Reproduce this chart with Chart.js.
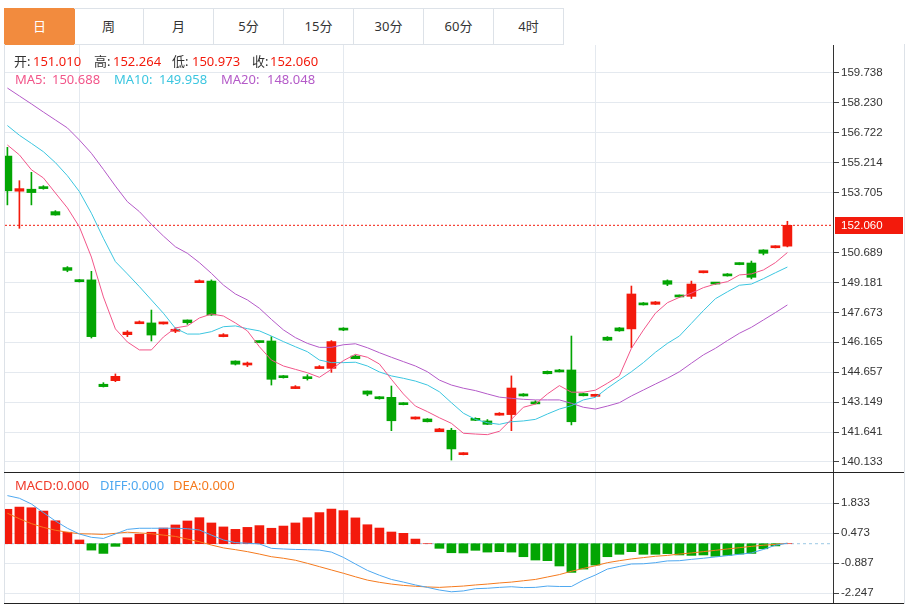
<!DOCTYPE html>
<html>
<head>
<meta charset="utf-8">
<script src="https://cdn.jsdelivr.net/npm/chart.js@4.4.0/dist/chart.umd.min.js"></script>
<style>
  html, body { margin: 0; padding: 0; background: #fff; }
  body { width: 909px; height: 606px; position: relative; overflow: hidden;
         font-family: "Noto Sans", "Noto Sans CJK SC", sans-serif; font-size: 13px; }
  .abs { position: absolute; }
  .tab { position: absolute; top: 8px; height: 35px; width: 69px; line-height: 35px; text-align: center;
         border: 1px solid #dde2e8; border-left: none; color: #333; }
  .tab.on { background: #f28b3e; color: #fff; border-color: #f28b3e; }
  .txt { position: absolute; white-space: nowrap; line-height: 16px; }
  .frame { position: absolute; left: 4px; top: 44px; width: 899px; height: 559px; border: 1px solid #dde2e8; border-top: none; }
  .sep { position: absolute; left: 4px; width: 900px; height: 1px; background: #222; }
</style>
</head>
<body>
<div id="tabs"></div>
<div class="frame"></div>

<div class="abs" style="left:5px; top:45px; width:898px; height:427px;">
  <canvas id="kChart" width="898" height="427"></canvas>
</div>
<div class="sep" style="top:472px;"></div>
<div class="abs" style="left:5px; top:473px; width:898px; height:130px;">
  <canvas id="macdChart" width="898" height="130"></canvas>
</div>
<div class="sep" style="top:603px;"></div>

<div id="legend"></div>

<script>
// Period tabs
const tabNames = ['日', '周', '月', '5分', '15分', '30分', '60分', '4时'];

// Daily candles (open / high / low / close)
const opens  = [155.55,153.78,153.88,153.99,152.75,149.93,149.31,149.31,144.05,144.23,146.55,147.10,147.14,147.09,146.72,147.29,149.17,149.25,146.45,145.22,
                145.02,146.23,146.23,144.47,143.83,144.43,144.84,144.85,146.87,145.47,143.71,143.41,143.39,143.11,142.30,142.30,141.66,141.73,140.50,142.33,
                142.20,142.49,142.52,143.56,143.16,144.70,144.77,144.77,143.58,143.44,146.42,146.89,146.84,148.15,148.08,149.27,148.53,148.48,149.67,149.17,
                149.61,150.16,150.16,150.82,150.93,151.010];
const highs  = [155.99,154.31,154.73,154.06,152.80,149.98,149.33,149.74,144.13,144.57,146.75,147.24,147.79,147.18,146.89,147.29,149.31,149.31,146.60,145.23,
                145.17,146.24,146.45,144.49,143.98,144.53,144.99,146.25,146.90,145.52,143.71,143.43,143.96,143.12,142.40,142.32,141.83,141.83,140.60,142.36,
                142.27,142.62,144.47,143.58,143.22,144.72,144.80,146.48,143.60,143.55,146.45,146.91,149.00,148.17,148.22,149.31,148.55,149.25,149.75,149.18,
                149.63,150.17,150.26,150.83,151.03,152.264];
const lows   = [153.09,151.91,153.09,153.88,152.57,149.72,149.20,146.38,143.91,144.18,146.45,147.10,146.23,147.08,146.65,147.07,149.17,147.52,146.44,145.02,
                144.94,146.14,144.01,144.36,143.83,144.26,144.84,144.65,146.75,145.34,143.47,143.30,141.71,143.01,142.29,142.15,141.66,140.23,140.49,142.22,
                142.02,142.49,141.71,143.45,143.06,144.57,144.67,142.00,143.46,143.43,146.25,146.72,145.89,148.04,148.07,149.02,148.44,148.37,149.66,149.09,
                149.50,150.07,149.36,150.57,150.92,150.973];
const closes = [153.80,153.91,153.71,153.91,152.58,149.79,149.22,146.45,143.93,144.45,146.68,147.19,146.53,147.16,146.82,147.15,149.25,147.54,146.53,145.06,
                145.12,146.15,144.30,144.38,143.93,144.33,144.94,146.20,146.78,145.34,143.55,143.32,142.21,143.02,142.39,142.16,141.80,140.79,140.59,142.23,
                142.03,142.59,143.86,143.46,143.06,144.58,144.67,142.16,143.47,143.52,146.27,146.74,148.60,148.05,148.20,149.09,148.45,149.10,149.74,149.10,
                149.51,150.08,149.44,150.65,151.02,152.060];

// Moving averages
const ma5  = [156.11,155.61,154.86,154.45,153.69,152.94,151.98,150.46,148.45,146.84,146.18,145.78,145.78,146.43,146.89,146.99,147.39,147.59,147.49,147.14,
              146.74,145.94,145.27,144.97,144.80,144.63,144.40,144.80,145.24,145.56,145.41,145.07,144.30,143.56,142.95,142.67,142.36,142.08,141.58,
              141.54,141.51,141.68,142.28,142.89,143.05,143.56,143.98,143.65,143.65,143.75,144.10,144.48,145.86,146.78,147.63,148.16,148.43,148.64,148.92,
              149.10,149.22,149.56,149.61,149.81,150.18,150.688];
const ma10 = [157.09,156.60,156.19,155.77,155.22,154.56,153.76,152.67,151.41,150.23,149.61,148.97,148.30,147.63,146.87,146.58,146.58,146.70,146.95,146.99,
              146.85,146.74,146.48,146.20,145.94,145.69,145.27,145.14,145.14,145.16,144.97,144.67,144.47,144.35,144.21,144.01,143.67,143.12,142.59,
              142.28,142.11,142.03,142.16,142.20,142.28,142.55,142.80,142.97,143.26,143.39,143.85,144.27,144.68,145.14,145.66,146.11,146.48,147.12,147.76,
              148.36,148.71,149.04,149.10,149.37,149.67,149.958];
const ma20 = [158.98,158.58,158.18,157.77,157.37,156.97,156.36,155.69,154.88,154.04,153.25,152.75,152.11,151.52,150.98,150.65,150.18,149.64,149.05,148.60,
              148.30,147.88,147.32,146.79,146.40,146.11,145.91,145.91,146.04,146.09,145.89,145.64,145.41,145.19,144.97,144.68,144.26,144.01,143.85,
              143.73,143.56,143.40,143.34,143.29,143.26,143.26,143.26,143.09,142.89,142.80,142.95,143.12,143.46,143.76,144.06,144.35,144.68,145.11,145.53,
              145.86,146.25,146.62,146.92,147.29,147.66,148.048];

// MACD panel
const macdBars = [1.56,1.66,1.63,1.48,1.04,0.52,0.17,-0.29,-0.44,-0.12,0.27,0.43,0.52,0.71,0.85,1.03,1.18,0.94,0.76,0.65,
                  0.74,0.82,0.70,0.80,0.94,1.18,1.41,1.57,1.50,1.17,0.86,0.71,0.53,0.47,0.21,0.00,-0.21,-0.41,-0.42,-0.30,
                  -0.38,-0.36,-0.38,-0.59,-0.74,-0.77,-1.01,-1.30,-1.15,-0.97,-0.59,-0.48,-0.36,-0.48,-0.48,-0.45,-0.51,-0.53,-0.51,-0.57,
                  -0.53,-0.47,-0.44,-0.23,-0.10,0.00];
const diffLine = [2.18,2.06,1.80,1.41,1.03,0.70,0.44,0.29,0.24,0.44,0.65,0.70,0.70,0.70,0.70,0.68,0.62,0.39,0.17,0.05,
                  0.02,-0.01,-0.21,-0.24,-0.26,-0.27,-0.29,-0.38,-0.62,-0.92,-1.21,-1.43,-1.62,-1.74,-1.87,-1.98,-2.10,-2.18,-2.14,-2.04,
                  -2.02,-1.98,-1.95,-1.99,-1.98,-1.92,-1.94,-1.94,-1.65,-1.42,-1.15,-1.03,-0.92,-0.91,-0.86,-0.78,-0.77,-0.71,-0.66,-0.60,
                  -0.54,-0.48,-0.42,-0.26,-0.07,0.02];
const deaLine  = [1.38,1.13,0.91,0.74,0.61,0.52,0.45,0.44,0.42,0.47,0.52,0.49,0.45,0.39,0.33,0.21,0.09,-0.06,-0.19,-0.27,
                  -0.36,-0.47,-0.59,-0.66,-0.75,-0.89,-1.04,-1.19,-1.34,-1.50,-1.65,-1.75,-1.83,-1.89,-1.93,-1.96,-1.98,-1.95,-1.92,-1.87,
                  -1.83,-1.78,-1.74,-1.68,-1.62,-1.51,-1.40,-1.25,-1.12,-1.00,-0.86,-0.77,-0.69,-0.63,-0.57,-0.53,-0.47,-0.42,-0.36,-0.30,
                  -0.24,-0.18,-0.12,-0.07,-0.03,0.02];

// Axis ticks
const priceTicks = ['159.738','158.230','156.722','155.214','153.705','150.689','149.181','147.673','146.165','144.657','143.149','141.641','140.133'];
const macdTicks  = ['1.833','0.473','-0.887','-2.247'];
const monthStarts = [6, 28, 49];

// Colours
const RED = '#f31a0c';
const GREEN = '#03a503';
const GRID = '#e4e9ef';
const C_MA5 = '#f2568a', C_MA10 = '#3cc6e0', C_MA20 = '#b45ac8';
const C_DIFF = '#4ea8f0', C_DEA = '#f57a1e';
const AXIS_FONT = { family: '"Liberation Sans", Arial, sans-serif', size: 11.5 };

const X_MIN = -0.2, X_MAX = 68.8;
const idx = closes.map((_, i) => i);
const last = closes.length - 1;

// ---- tabs and text legends ----
const tabsEl = document.getElementById('tabs');
tabNames.forEach((name, i) => {
  const d = document.createElement('div');
  d.className = 'tab' + (i === 0 ? ' on' : '');
  d.style.left = (4 + i * 70) + 'px';
  if (i === 0) d.style.borderLeft = '1px solid #f28b3e';
  d.textContent = name;
  tabsEl.appendChild(d);
});

function addText(x, y, text, color) {
  const s = document.createElement('span');
  s.className = 'txt';
  s.style.left = x + 'px';
  s.style.top = y + 'px';
  s.style.color = color;
  s.textContent = text;
  document.getElementById('legend').appendChild(s);
}
addText(14, 53, '开:', '#333');  addText(33, 53, opens[last].toFixed(3), RED);
addText(94, 53, '高:', '#333');  addText(113, 53, highs[last].toFixed(3), RED);
addText(172, 53, '低:', '#333'); addText(192, 53, lows[last].toFixed(3), RED);
addText(252, 53, '收:', '#333'); addText(270, 53, closes[last].toFixed(3), RED);
addText(15, 71, 'MA5:', C_MA5);   addText(52, 71, ma5[last].toFixed(3), C_MA5);
addText(114, 71, 'MA10:', C_MA10); addText(159, 71, ma10[last].toFixed(3), C_MA10);
addText(221, 71, 'MA20:', C_MA20); addText(267, 71, ma20[last].toFixed(3), C_MA20);
addText(15, 477, 'MACD:0.000', '#f03a2a');
addText(100, 477, 'DIFF:0.000', C_DIFF);
addText(173, 477, 'DEA:0.000', C_DEA);

// ---- shared axis helpers ----
function xAxis() {
  return {
    type: 'linear', min: X_MIN, max: X_MAX, offset: false,
    afterBuildTicks: s => { s.ticks = monthStarts.map(v => ({ value: v })); },
    ticks: { display: false },
    grid: { color: GRID, drawTicks: false, offset: false },
    border: { display: false },
    afterFit: s => { s.height = 0; s.paddingLeft = 0; s.paddingRight = 0; }
  };
}
function yAxis(min, max, ticks) {
  return {
    position: 'right', min: min, max: max,
    afterBuildTicks: s => { s.ticks = ticks.map(t => ({ value: Number(t) })); },
    ticks: { font: AXIS_FONT, color: '#333', padding: 2, callback: v => v.toFixed(3) },
    grid: { color: GRID, tickColor: '#444', tickLength: 6 },
    border: { color: '#333' },
    afterFit: s => { s.width = 70; s.paddingTop = 0; s.paddingBottom = 0; }
  };
}
const baseOptions = {
  responsive: false, animation: false, events: [],
  layout: { padding: 0 },
  plugins: { legend: { display: false }, tooltip: { enabled: false } }
};

// ---- candlestick chart ----
const candleColors = idx.map(i => closes[i] >= opens[i] ? RED : GREEN);
const maLine = (arr, color) => ({
  type: 'line', data: idx.map(i => ({ x: i, y: arr[i] })),
  borderColor: color, borderWidth: 1, pointRadius: 0, tension: 0, order: 0
});

const lastPriceLabel = {
  id: 'lastPriceLabel',
  afterDraw(chart) {
    const ctx = chart.ctx, area = chart.chartArea;
    const y = chart.scales.y.getPixelForValue(closes[last]);
    ctx.save();
    ctx.fillStyle = RED;
    ctx.fillRect(area.right + 2, Math.round(y) - 8, 68, 17);
    ctx.fillStyle = '#fff';
    ctx.font = '11.5px "Liberation Sans", Arial, sans-serif';
    ctx.textBaseline = 'middle';
    ctx.fillText(closes[last].toFixed(3), area.right + 8, Math.round(y) + 0.5);
    ctx.restore();
  }
};

new Chart(document.getElementById('kChart'), {
  type: 'bar',
  data: {
    datasets: [
      maLine(ma5, C_MA5),
      maLine(ma10, C_MA10),
      maLine(ma20, C_MA20),
      {
        type: 'line', data: [{ x: X_MIN, y: closes[last] }, { x: X_MAX, y: closes[last] }],
        borderColor: RED, borderWidth: 1, borderDash: [2, 2], pointRadius: 0, order: 0
      },
      {
        type: 'bar', data: idx.map(i => ({ x: i, y: [opens[i], closes[i]] })),
        backgroundColor: candleColors, barThickness: 9, minBarLength: 2, grouped: false, order: 1
      },
      {
        type: 'bar', data: idx.map(i => ({ x: i, y: [lows[i], highs[i]] })),
        backgroundColor: candleColors, barThickness: 1, grouped: false, order: 2
      }
    ]
  },
  options: Object.assign({}, baseOptions, {
    scales: { x: xAxis(), y: yAxis(139.627, 161.149, priceTicks) }
  }),
  plugins: [lastPriceLabel]
});

// ---- MACD chart ----
new Chart(document.getElementById('macdChart'), {
  type: 'bar',
  data: {
    datasets: [
      {
        type: 'line', data: idx.map(i => ({ x: i, y: diffLine[i] })),
        borderColor: C_DIFF, borderWidth: 1, pointRadius: 0, order: 0
      },
      {
        type: 'line', data: idx.map(i => ({ x: i, y: deaLine[i] })),
        borderColor: C_DEA, borderWidth: 1, pointRadius: 0, order: 0
      },
      {
        type: 'line', data: [{ x: X_MIN, y: 0 }, { x: X_MAX, y: 0 }],
        borderColor: '#9cc9e4', borderWidth: 1, borderDash: [3, 3], pointRadius: 0, order: 2
      },
      {
        type: 'bar', data: idx.map(i => ({ x: i, y: macdBars[i] })),
        backgroundColor: macdBars.map(v => v >= 0 ? RED : GREEN), barThickness: 9, grouped: false, order: 1
      }
    ]
  },
  options: Object.assign({}, baseOptions, {
    scales: { x: xAxis(), y: yAxis(-2.688, 3.205, macdTicks) }
  })
});
</script>
</body>
</html>
